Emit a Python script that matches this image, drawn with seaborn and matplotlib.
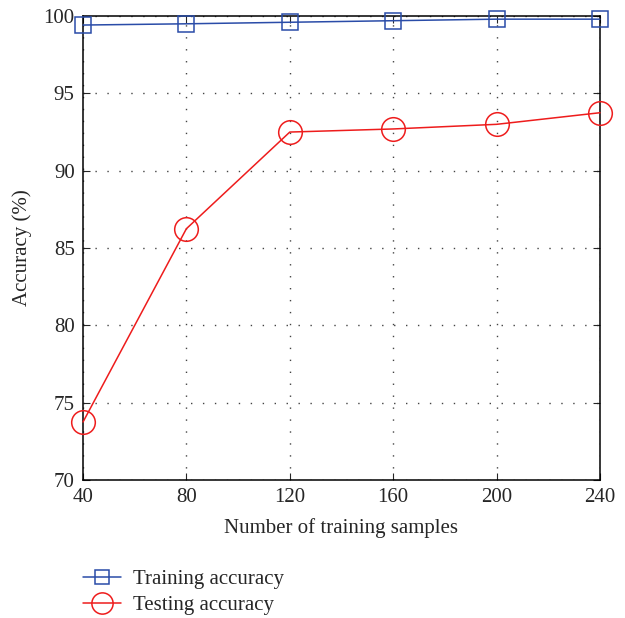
import pandas as pd
import matplotlib.pyplot as plt
import seaborn as sns

# Values
samples = [40, 80, 120, 160, 200, 240]
train_acc = [99.42, 99.5, 99.6, 99.7, 99.8, 99.8]
test_acc = [73.75, 86.25, 92.5, 92.7, 93.0, 93.75]

df = pd.DataFrame({
    'samples': samples * 2,
    'accuracy': train_acc + test_acc,
    'series': ['Training accuracy'] * len(samples) + ['Testing accuracy'] * len(samples),
})

sns.set_style('ticks')
plt.rcParams['font.family'] = ['Liberation Serif', 'DejaVu Serif']
plt.rcParams['font.size'] = 15

fig = plt.figure(figsize=(6.25, 6.18), dpi=100)
ax = fig.add_axes([0.1328, 0.2233, 0.8272, 0.7507])

colors = {'Training accuracy': '#2a4ca8', 'Testing accuracy': '#ee1c1c'}
markers = {'Training accuracy': 's', 'Testing accuracy': 'o'}
sizes = {'Training accuracy': 11, 'Testing accuracy': 17}

handles = []
for name in ['Training accuracy', 'Testing accuracy']:
    sub = df[df['series'] == name]
    sns.lineplot(data=sub, x='samples', y='accuracy', ax=ax, color=colors[name],
                 marker=markers[name], markersize=sizes[name], markerfacecolor='none',
                 markeredgecolor=colors[name], markeredgewidth=1.1, linewidth=1.1,
                 label=name, clip_on=False, zorder=3)
    handles.append(ax.lines[-1])

ax.set_xlim(40, 240)
ax.set_ylim(70, 100)
ax.set_xticks(samples)
ax.set_yticks([70, 75, 80, 85, 90, 95, 100])
ax.grid(True, linestyle=(0, (1.0, 7.6)), color='#444444', linewidth=1.0)
ax.tick_params(direction='in', top=True, right=True, length=5, labelsize=15, pad=6)
for s in ax.spines.values():
    s.set_linewidth(1.1)
    s.set_color('black')

ax.set_xlabel('Number of training samples', fontsize=15, labelpad=8)
ax.set_ylabel('Accuracy (%)', fontsize=15, labelpad=8)

ax.get_legend().remove()
leg = fig.legend(handles=handles, labels=['Training accuracy', 'Testing accuracy'],
                 loc='upper left', bbox_to_anchor=(0.12, 0.092), frameon=False,
                 fontsize=15, handlelength=1.8, labelspacing=0.3, borderaxespad=0,
                 handletextpad=0.6, markerscale=0.9)

fig.savefig('out.png', dpi=100)
